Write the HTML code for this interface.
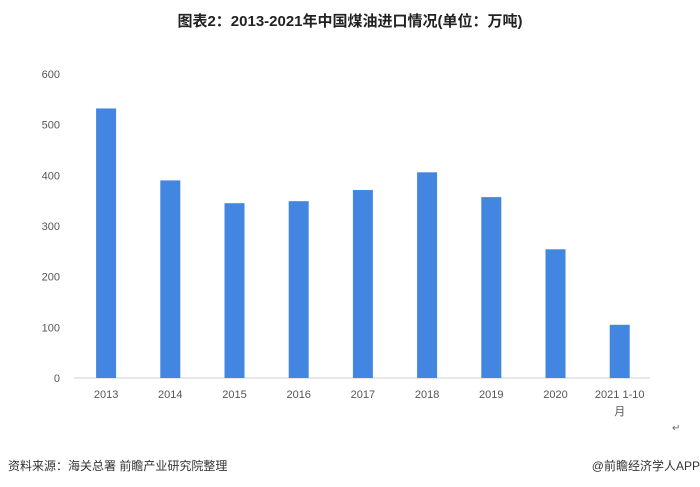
<!DOCTYPE html>
<html><head><meta charset="utf-8">
<style>
body{margin:0;background:#fff;}
#wrap{position:relative;width:700px;height:487px;overflow:hidden;font-family:"Liberation Sans","Noto Sans CJK SC",sans-serif;}
</style></head>
<body>
<div id="wrap">
<svg id="chart" width="700" height="487">
<text x="350" y="26" text-anchor="middle" font-size="15" font-weight="bold" fill="#222" font-family="Liberation Sans, Noto Sans CJK SC, sans-serif">图表2：2013-2021年中国煤油进口情况(单位：万吨)</text>
<line x1="74" y1="378" x2="650" y2="378" stroke="#d0d0d0" stroke-width="1"/>
<g id="yticks"></g>
<g id="bars"></g>
<g id="xlabels"></g>
<text x="672" y="431" font-size="10" fill="#666">↵</text>
<text x="8" y="470" font-size="12" fill="#333" font-family="Liberation Sans, Noto Sans CJK SC, sans-serif">资料来源：海关总署 前瞻产业研究院整理</text>
<text x="700" y="470" text-anchor="end" font-size="12" fill="#333" font-family="Liberation Sans, Noto Sans CJK SC, sans-serif">@前瞻经济学人APP</text>
</svg>
</div>
<script>
const categories=["2013","2014","2015","2016","2017","2018","2019","2020","2021 1-10"];
const values=[532,390,345,349,371,406,357,254,105];
const yTicks=[0,100,200,300,400,500,600];
const NS="http://www.w3.org/2000/svg";
const y0=378,yTop=74,yMax=600;
function yScale(v){return y0-(v/yMax)*(y0-yTop);}
const xStart=74,step=64.2;
function xCenter(i){return xStart+step*(i+0.5);}
const yt=document.getElementById('yticks');
yTicks.forEach(t=>{const e=document.createElementNS(NS,'text');
e.setAttribute('x',60);e.setAttribute('y',yScale(t)+4);e.setAttribute('text-anchor','end');
e.setAttribute('font-size','11');e.setAttribute('fill','#555');e.textContent=t;


yt.appendChild(e);});
const bg=document.getElementById('bars'),xl=document.getElementById('xlabels');
categories.forEach((c,i)=>{const r=document.createElementNS(NS,'rect');
const cx=xCenter(i);
r.setAttribute('x',cx-10);r.setAttribute('width',20);
r.setAttribute('y',yScale(values[i]));r.setAttribute('height',y0-yScale(values[i]));
r.setAttribute('fill','#4286e2');


bg.appendChild(r);
const t=document.createElementNS(NS,'text');
t.setAttribute('x',cx);t.setAttribute('y',398);t.setAttribute('text-anchor','middle');
t.setAttribute('font-size','11');t.setAttribute('fill','#555');t.textContent=c;


xl.appendChild(t);
if(c.indexOf('1-10')>=0){const t2=document.createElementNS(NS,'text');
t2.setAttribute('x',cx);t2.setAttribute('y',415);t2.setAttribute('text-anchor','middle');
t2.setAttribute('font-size','11');t2.setAttribute('fill','#555');t2.textContent='月';
t2.setAttribute('font-family','Noto Sans CJK SC, sans-serif');


xl.appendChild(t2);}
});
</script>
</body></html>
